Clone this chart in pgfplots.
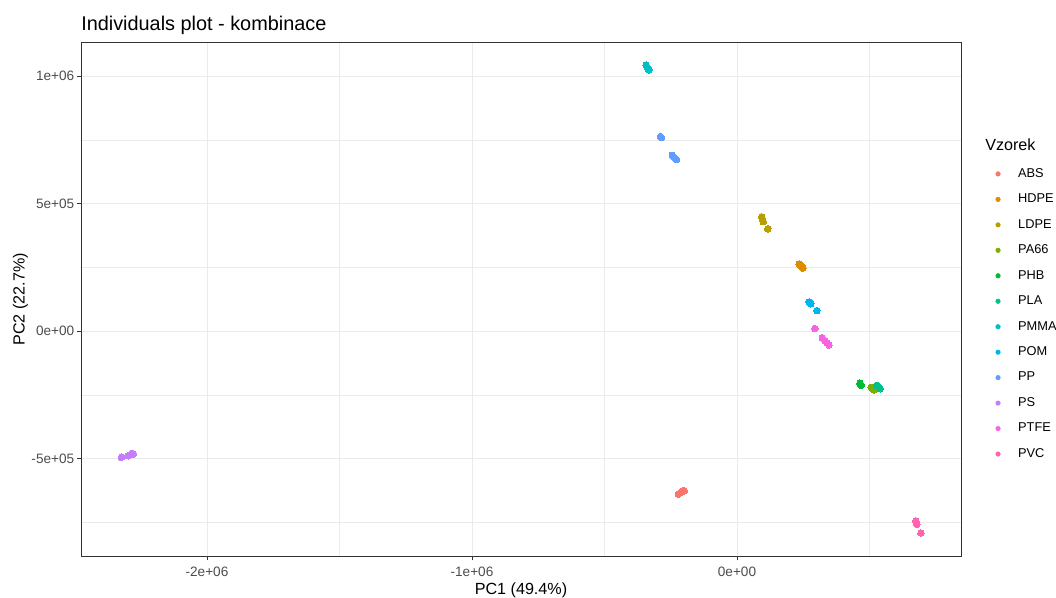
\documentclass[border=0pt]{standalone}
\usepackage{fontspec}
\setmainfont{Liberation Sans}
\usepackage{pgfplots}
\pgfplotsset{compat=1.18}
\definecolor{cABS}{HTML}{F8766D}
\definecolor{cHDPE}{HTML}{DE8C00}
\definecolor{cLDPE}{HTML}{B79F00}
\definecolor{cPA}{HTML}{7CAE00}
\definecolor{cPHB}{HTML}{00BA38}
\definecolor{cPLA}{HTML}{00C08B}
\definecolor{cPMMA}{HTML}{00BFC4}
\definecolor{cPOM}{HTML}{00B4F0}
\definecolor{cPP}{HTML}{619CFF}
\definecolor{cPS}{HTML}{C77CFF}
\definecolor{cPTFE}{HTML}{F564E3}
\definecolor{cPVC}{HTML}{FF64B0}
\definecolor{gridc}{HTML}{EBEBEB}
\definecolor{borderc}{HTML}{333333}
\definecolor{tickc}{HTML}{4D4D4D}
\pgfplotsset{
  pt/.style={only marks, mark=*, mark size=2.5pt, mark options={draw=#1, fill=#1, line width=0pt}, color=#1},
}
\begin{document}
\begin{tikzpicture}
\path[use as bounding box] (0,0) rectangle (792pt,447.75pt);
\begin{axis}[
  at={(60.75pt,30.5pt)}, anchor=south west,
  width=660pt, height=385.5pt, scale only axis,
  xmin=-2475500, xmax=845300, ymin=-883500, ymax=1132200,
  xtick={-2000000,-1000000,0}, xticklabels={-2e+06,-1e+06,0e+00},
  ytick={-500000,0,500000,1000000}, yticklabels={-5e+05,0e+00,5e+05,1e+06},
  minor xtick={-1500000,-500000,500000},
  minor ytick={-750000,-250000,250000,750000},
  scaled ticks=false,
  grid=both,
  major grid style={color=gridc, line width=0.7pt},
  minor grid style={color=gridc, line width=0.4pt},
  minor tick length=0pt,
  major tick length=3pt,
  tick align=outside,
  xtick pos=bottom, ytick pos=left,
  tick style={color=borderc, line width=0.75pt},
  axis line style={color=borderc, line width=0.75pt},
  ticklabel style={font=\fontsize{10.2}{12}\selectfont, text=tickc},
  xticklabel style={anchor=base, inner sep=0pt, yshift=-12pt},
  yticklabel style={anchor=east, inner sep=0pt, xshift=-1.9pt},
  title={Individuals plot - kombinace},
  title style={at={(axis description cs:0,1)}, anchor=base west, yshift=2.6pt, font=\fontsize{14.9}{17}\selectfont, inner sep=0pt},
  xlabel={PC1 (49.4\%)},
  xlabel style={at={(axis description cs:0.5,0)}, anchor=base, yshift=-28.3pt, font=\fontsize{12.1}{14}\selectfont, inner sep=0pt},
  ylabel={PC2 (22.7\%)},
  ylabel style={at={([xshift=-42.3pt]axis description cs:0,0.5)}, anchor=base, font=\fontsize{12.1}{14}\selectfont, inner sep=0pt},
  legend cell align=left,
  legend image code/.code={\fill[#1] (0pt,0pt) circle (1.7pt);},
  legend style={at={(1.0389,0.7562)}, anchor=north west, draw=none, fill=none, inner sep=0pt,
    row sep=10.1pt, column sep=13.2pt, font=\fontsize{9.6}{12}\selectfont,
    nodes={inner sep=0pt, text height=7pt, text depth=2pt}},
]
\addplot[pt=cABS] coordinates {(-221000,-639000) (-210000,-632000) (-199000,-626000) (-205000,-628000)};
\addlegendentry{ABS}
\addplot[pt=cHDPE] coordinates {(238000,259000) (243000,254000) (248000,247000) (235000,262000) (245000,250000)};
\addlegendentry{HDPE}
\addplot[pt=cLDPE] coordinates {(93000,448000) (96000,438000) (99000,429000) (116000,401000)};
\addlegendentry{LDPE}
\addplot[pt=cPA] coordinates {(506000,-221000) (512000,-226000) (517000,-231000)};
\addlegendentry{PA66}
\addplot[pt=cPHB] coordinates {(464000,-205000) (469000,-213000) (466000,-209000)};
\addlegendentry{PHB}
\addplot[pt=cPLA] coordinates {(527000,-213000) (534000,-219000) (540000,-226000)};
\addlegendentry{PLA}
\addplot[pt=cPMMA] coordinates {(-343000,1043000) (-338000,1034000) (-333000,1024000) (-335000,1029000)};
\addlegendentry{PMMA}
\addplot[pt=cPOM] coordinates {(272000,114000) (278000,107000) (275000,112000) (301000,80000)};
\addlegendentry{POM}
\addplot[pt=cPP] coordinates {(-285000,759000) (-289000,763000) (-244000,689000) (-228000,673000) (-236000,681000)};
\addlegendentry{PP}
\addplot[pt=cPS] coordinates {(-2323000,-495000) (-2297000,-489000) (-2284000,-480000) (-2278000,-482000)};
\addlegendentry{PS}
\addplot[pt=cPTFE] coordinates {(294000,10000) (322000,-26000) (332000,-39000) (340000,-47000) (347000,-55000)};
\addlegendentry{PTFE}
\addplot[pt=cPVC] coordinates {(675000,-745000) (678000,-758000) (694000,-792000)};
\addlegendentry{PVC}
\end{axis}
\node[anchor=base west, inner sep=0pt, font=\fontsize{12.1}{14}\selectfont] at (738.75pt,335pt) {Vzorek};
\end{tikzpicture}
\end{document}
